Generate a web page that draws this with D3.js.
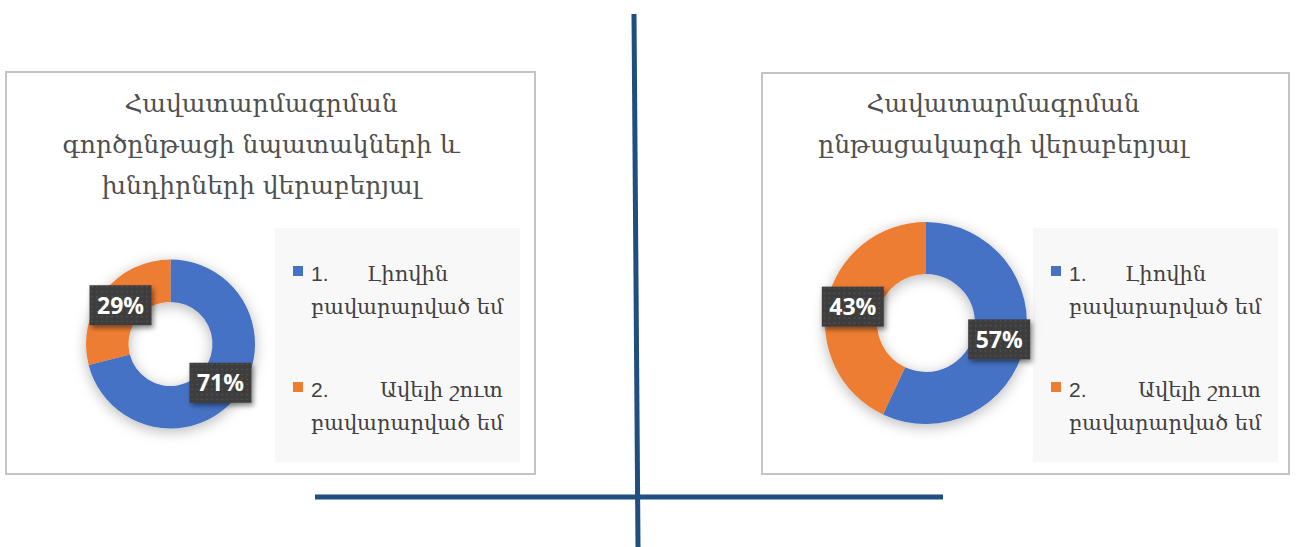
<!DOCTYPE html>
<html><head><meta charset="utf-8">
<script src="https://cdn.jsdelivr.net/npm/d3@7"></script>
<style>html,body{margin:0;padding:0;background:#fff;}svg{display:block;}</style>
</head><body>
<svg id="c" width="1296" height="547"></svg>
<script>
// ---- data ----
const titleLeft = ["Հավատարմագրման", "գործընթացի նպատակների և", "խնդիրների վերաբերյալ"];
const titleRight = ["Հավատարմագրման", "ընթացակարգի վերաբերյալ"];
const categoryNumbers = ["1.", "2."];
const categoryFirstLine = ["Լիովին", "Ավելի շուտ"];
const categorySecondLine = ["բավարարված եմ", "բավարարված եմ"];
const valuesLeft = [71, 29];
const valuesRight = [57, 43];
const colors = ["#4472C4", "#ED7D31"];

const svg = d3.select("#c");
const defs = svg.append("defs");
defs.append("filter").attr("id","dshadow").attr("x","-30%").attr("y","-30%").attr("width","160%").attr("height","160%")
  .append("feDropShadow").attr("dx",0).attr("dy",3).attr("stdDeviation",7).attr("flood-color","#000").attr("flood-opacity",0.28);
defs.append("filter").attr("id","lshadow").attr("x","-30%").attr("y","-30%").attr("width","160%").attr("height","160%")
  .append("feDropShadow").attr("dx",2).attr("dy",3).attr("stdDeviation",2.5).attr("flood-color","#000").attr("flood-opacity",0.45);
const pat = defs.append("pattern").attr("id","dots").attr("patternUnits","userSpaceOnUse").attr("width",5).attr("height",5);
pat.append("rect").attr("width",5).attr("height",5).attr("fill","#3d3d3d");
pat.append("circle").attr("cx",1.5).attr("cy",1.5).attr("r",0.8).attr("fill","#5a5a5a");

const panels = [
  {box:[6,72,529,402], titles:titleLeft, titleX:261, titleY:112, values:valuesLeft,
   cx:170.5, cy:344, ro:84.5, ri:42, legend:[275,228,245,234], lx:293},
  {box:[762,73,527,401], titles:titleRight, titleX:1003, titleY:112, values:valuesRight,
   cx:926, cy:323, ro:101, ri:49, legend:[1033,228,245,234], lx:1051}
];

const pie = d3.pie().sort(null).value(d=>d);

panels.forEach(p=>{
  const g = svg.append("g");
  g.append("rect").attr("x",p.box[0]).attr("y",p.box[1]).attr("width",p.box[2]).attr("height",p.box[3])
    .attr("fill","#fff").attr("stroke","#c4c4c4").attr("stroke-width",2);
  g.selectAll("text.title").data(p.titles).join("text").attr("class","title")
    .attr("x",p.titleX).attr("y",(d,i)=>p.titleY+i*41)
    .attr("text-anchor","middle").attr("font-family","DejaVu Serif").attr("font-size",25)
    .attr("fill","#4f4f4f").text(d=>d);
  // legend bg
  g.append("rect").attr("x",p.legend[0]).attr("y",p.legend[1]).attr("width",p.legend[2]).attr("height",p.legend[3]).attr("fill","#f8f8f8");
  // donut
  const arc = d3.arc().innerRadius(p.ri).outerRadius(p.ro);
  const arcs = pie(p.values);
  const dg = g.append("g").attr("transform",`translate(${p.cx},${p.cy})`);
  dg.append("g").attr("filter","url(#dshadow)").selectAll("path").data(arcs).join("path")
    .attr("d",arc).attr("fill",(d,i)=>colors[i]);
  const lab = dg.selectAll("g.lab").data(arcs).join("g").attr("class","lab")
    .attr("transform",d=>`translate(${arc.centroid(d)})`);
  lab.append("rect").attr("x",-31).attr("y",-20).attr("width",62).attr("height",40)
    .attr("fill","url(#dots)").attr("filter","url(#lshadow)");
  lab.append("text").attr("text-anchor","middle").attr("dy","0.36em")
    .attr("font-family","Open Sans").attr("font-weight","bold").attr("font-size",23)
    .attr("fill","#fff").text(d=>d.data+"%");
  // legend items
  categoryNumbers.forEach((n,i)=>{
    const y0 = 281 + i*116;
    g.append("rect").attr("x",p.lx).attr("y",y0-15).attr("width",10).attr("height",10).attr("fill",colors[i]);
    g.append("text").attr("x",p.lx+18).attr("y",y0).attr("font-family","Liberation Sans").attr("font-size",21)
      .attr("fill","#404040").text(n);
    g.append("text").attr("x",p.lx+18+(i===0?56:69)).attr("y",y0).attr("font-family","DejaVu Serif").attr("font-size",21)
      .attr("fill","#404040").text(categoryFirstLine[i]);
    g.append("text").attr("x",p.lx+18).attr("y",y0+33).attr("font-family","DejaVu Serif").attr("font-size",21)
      .attr("fill","#404040").text(categorySecondLine[i]);
  });
});

// cross lines
const lineColor = "#1F4E80";
svg.append("line").attr("x1",634).attr("y1",14).attr("x2",638).attr("y2",547).attr("stroke",lineColor).attr("stroke-width",5);
svg.append("line").attr("x1",315).attr("y1",497).attr("x2",943).attr("y2",497).attr("stroke",lineColor).attr("stroke-width",5);
</script>
</body></html>
